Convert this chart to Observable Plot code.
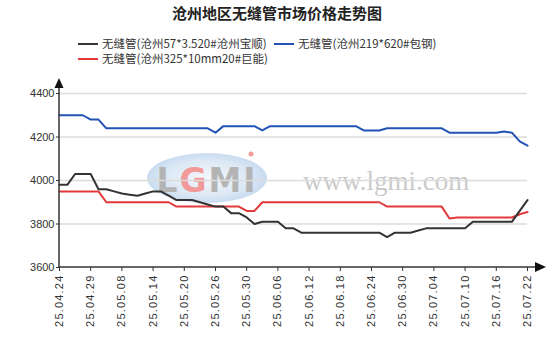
<!DOCTYPE html>
<html><head><meta charset="utf-8">
<script src="https://cdn.jsdelivr.net/npm/d3@7"></script>
<script src="https://cdn.jsdelivr.net/npm/@observablehq/plot@0.6"></script>
<style>
body{margin:0;background:#fff;}
#wrap{position:relative;width:554px;height:351px;overflow:hidden;font-family:"Noto Sans CJK SC",sans-serif;}
#title{position:absolute;left:0;width:554px;top:3px;text-align:center;font-weight:bold;font-size:15px;line-height:20px;color:#222;}
.leg{position:absolute;font-size:11.5px;color:#333;white-space:nowrap;line-height:12px;height:12px;}
.leg i{display:inline-block;width:20px;height:2px;vertical-align:middle;margin-right:4px;position:relative;top:-1px;}
#wm{position:absolute;left:0;top:0;}
#chart{position:absolute;left:0;top:0;}
#chart g[aria-label="x-axis tick label"] text{letter-spacing:1.2px;}
</style>
</head><body>
<div id="wrap">
<svg id="wm" width="554" height="351">
  <defs><radialGradient id="eg" cx="0.5" cy="0.5" r="0.5"><stop offset="0" stop-color="#f2f6fb"/><stop offset="0.7" stop-color="#d6e4f3"/><stop offset="1" stop-color="#bfd5ee"/></radialGradient></defs>
  <ellipse cx="207" cy="178" rx="60" ry="25" fill="url(#eg)" opacity="0.85"/>
  <text x="207" y="192" text-anchor="middle" font-family="DejaVu Sans" font-weight="bold" font-size="33" fill="#b4b4b4" letter-spacing="2">L<tspan fill="#f29a9a">G</tspan>MI</text>
  <circle cx="251" cy="154" r="2.5" fill="#f29a9a"/>
  <text x="303" y="190" font-family="Liberation Serif" font-size="27" fill="#cacaca">www.lgmi.com</text>
</svg>
<div id="chart"></div>
<div id="title">沧州地区无缝管市场价格走势图</div>
<div class="leg" style="left:78px;top:37px"><i style="background:#333"></i>无缝管(沧州57*3.520#沧州宝顺)</div>
<div class="leg" style="left:274px;top:37px"><i style="background:#2453b8"></i>无缝管(沧州219*620#包钢)</div>
<div class="leg" style="left:78px;top:52px"><i style="background:#e23a3a"></i>无缝管(沧州325*10mm20#巨能)</div>
</div>
<script>
const dates = ["25.04.24","25.04.25","25.04.27","25.04.28","25.04.29","25.04.30","25.05.06","25.05.07","25.05.08","25.05.09",
"25.05.12","25.05.13","25.05.14","25.05.15","25.05.16","25.05.19","25.05.20","25.05.21","25.05.22","25.05.23",
"25.05.26","25.05.27","25.05.28","25.05.29","25.05.30","25.06.03","25.06.04","25.06.05","25.06.06","25.06.09",
"25.06.10","25.06.11","25.06.12","25.06.13","25.06.16","25.06.17","25.06.18","25.06.19","25.06.20","25.06.23",
"25.06.24","25.06.25","25.06.26","25.06.27","25.06.30","25.07.01","25.07.02","25.07.03","25.07.04","25.07.07",
"25.07.08","25.07.09","25.07.10","25.07.11","25.07.14","25.07.15","25.07.16","25.07.17","25.07.18","25.07.21","25.07.22"];

const seriesBaoshun = [3980,3980,4030,4030,4030,3960,3960,3950,3940,3935,
3930,3940,3950,3950,3930,3910,3910,3910,3900,3890,
3880,3880,3850,3850,3830,3800,3810,3810,3810,3780,
3780,3760,3760,3760,3760,3760,3760,3760,3760,3760,
3760,3760,3740,3760,3760,3760,3770,3780,3780,3780,
3780,3780,3780,3810,3810,3810,3810,3810,3810,3860,3910];

const seriesBaogang = [4300,4300,4300,4300,4280,4280,4240,4240,4240,4240,
4240,4240,4240,4240,4240,4240,4240,4240,4240,4240,
4220,4250,4250,4250,4250,4250,4230,4250,4250,4250,
4250,4250,4250,4250,4250,4250,4250,4250,4250,4230,
4230,4230,4240,4240,4240,4240,4240,4240,4240,4240,
4220,4220,4220,4220,4220,4220,4220,4225,4220,4180,4160];

const seriesJuneng = [3950,3950,3950,3950,3950,3950,3900,3900,3900,3900,
3900,3900,3900,3900,3900,3880,3880,3880,3880,3880,
3880,3880,3880,3880,3860,3860,3900,3900,3900,3900,
3900,3900,3900,3900,3900,3900,3900,3900,3900,3900,
3900,3900,3880,3880,3880,3880,3880,3880,3880,3880,
3825,3830,3830,3830,3830,3830,3830,3830,3830,3845,3855];

const yTicks = [3600,3800,4000,4200,4400];
const labelStep = 4;
const tickIdx = dates.map((d,i)=>i).filter(i=>i%labelStep===0);

const rows = dates.map((d,i)=>({i, date:d, baoshun:seriesBaoshun[i], baogang:seriesBaogang[i], juneng:seriesJuneng[i]}));

const chart = Plot.plot({
  width:554, height:351,
  marginLeft:59, marginRight:27, marginTop:93, marginBottom:84,
  style:{background:"transparent", fontFamily:"Liberation Sans, Arial, sans-serif", fontSize:"11px", color:"#333", overflow:"visible"},
  x:{domain:[0, dates.length-1], axis:null},
  y:{domain:[3600,4400], axis:null},
  marks:[
    Plot.gridY(yTicks.slice(1), {stroke:"#dcdcdc", strokeOpacity:1, strokeWidth:1.5}),
    Plot.line(rows, {x:"i", y:"juneng", stroke:"#e23a3a", strokeWidth:2}),
    Plot.line(rows, {x:"i", y:"baogang", stroke:"#2453b8", strokeWidth:2}),
    Plot.line(rows, {x:"i", y:"baoshun", stroke:"#333333", strokeWidth:2}),
    Plot.axisY({ticks:yTicks, tickFormat:"d", tickSize:3, tickPadding:2, label:null}),
    Plot.axisX({ticks:tickIdx, tickFormat:i=>dates[i], tickRotate:-90, tickSize:4, tickPadding:3, label:null})
  ]
});
document.getElementById("chart").appendChild(chart);

// axis lines with arrowheads
const sx = chart.scale("x"), sy = chart.scale("y");
const x0 = sx.apply(0), y0 = sy.apply(3600), yTop = sy.apply(4400);
const svg = d3.select(chart);
const g = svg.append("g");
g.append("line").attr("x1",x0).attr("x2",x0).attr("y1",y0).attr("y2",yTop-6).attr("stroke","#333").attr("stroke-width",1.5);
g.append("line").attr("x1",x0).attr("x2",535).attr("y1",y0).attr("y2",y0).attr("stroke","#333").attr("stroke-width",1.5);
g.append("polygon").attr("points",`${x0-4.5},${yTop-5} ${x0+4.5},${yTop-5} ${x0},${yTop-15}`).attr("fill","#111");
g.append("polygon").attr("points",`535,${y0-5} 535,${y0+5} 546,${y0}`).attr("fill","#111");
</script>
</body></html>
